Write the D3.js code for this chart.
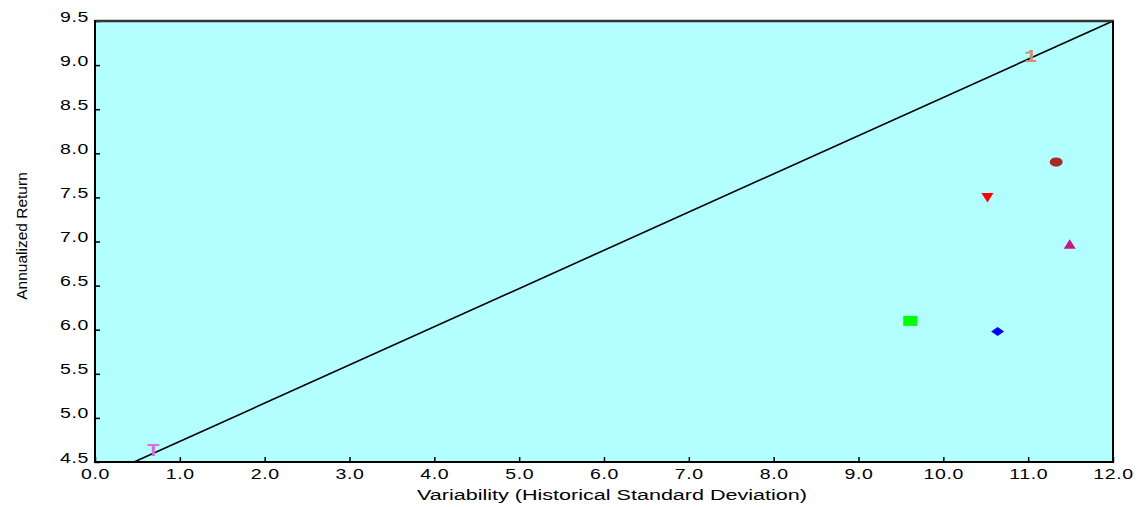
<!DOCTYPE html>
<html><head><meta charset="utf-8">
<script src="https://cdn.jsdelivr.net/npm/d3@7"></script>
<style>
html,body{margin:0;padding:0;background:#fff;}
svg{display:block;}
</style></head>
<body>
<svg id="chart" width="1140" height="507"></svg>
<script>
// Data
const xTicks = [0,1,2,3,4,5,6,7,8,9,10,11,12];
const yTicks = [4.5,5.0,5.5,6.0,6.5,7.0,7.5,8.0,8.5,9.0,9.5];
const pointNames = ["ellipse","downTriangle","upTriangle","square","diamond"];
const pointX = [11.33, 10.52, 11.49, 9.61, 10.64];
const pointY = [7.90, 7.50, 6.97, 6.10, 5.98];
const pointColors = ["#a52a2a","#ff0000","#c71585","#00ff00","#0000ff"];
const labelTexts = ["T","1"];
const labelX = [0.69, 11.03];
const labelY = [4.64, 9.10];
const labelColors = ["#da70d6","#d4906a"];
const lineX = [0.46, 12.0];
const lineY = [4.5, 9.5];

const svg = d3.select("#chart");
const L = 95, R = 1113, T = 21, B = 462;
const x = d3.scaleLinear().domain([0,12]).range([L,R]);
const y = d3.scaleLinear().domain([4.5,9.5]).range([B,T]);
const SX = 1.3;

svg.append("rect").attr("x",L).attr("y",T).attr("width",R-L).attr("height",B-T).attr("fill","#b3ffff");

// line
svg.append("path")
  .datum(lineX.map((d,i)=>[d,lineY[i]]))
  .attr("d", d3.line().x(d=>x(d[0])).y(d=>y(d[1])))
  .attr("stroke","#000").attr("stroke-width",1.6).attr("fill","none");

// points
const shapes = {
  ellipse: (cx,cy)=>`M${cx-6.5},${cy}a6.5,4.6 0 1,0 13,0a6.5,4.6 0 1,0 -13,0Z`,
  downTriangle: (cx,cy)=>`M${cx-6},${cy-4.5}L${cx+6},${cy-4.5}L${cx},${cy+5}Z`,
  upTriangle: (cx,cy)=>`M${cx-6},${cy+4.5}L${cx+6},${cy+4.5}L${cx},${cy-5}Z`,
  square: (cx,cy)=>`M${cx-7},${cy-5}h14v10h-14Z`,
  diamond: (cx,cy)=>`M${cx-6.5},${cy}L${cx},${cy-4.5}L${cx+6.5},${cy}L${cx},${cy+4.5}Z`
};
svg.selectAll("path.pt").data(pointNames).enter().append("path")
  .attr("class","pt")
  .attr("d",(d,i)=>shapes[d](x(pointX[i]),y(pointY[i])))
  .attr("fill",(d,i)=>pointColors[i]);

svg.selectAll("text.lbl").data(labelTexts).enter().append("text")
  .attr("class","lbl")
  .attr("transform",(d,i)=>`translate(${x(labelX[i])},${y(labelY[i])+6}) scale(1.2,1)`)
  .attr("text-anchor","middle")
  .attr("font-family","Liberation Mono, DejaVu Sans Mono, monospace")
  .attr("font-weight","bold").attr("font-size",18)
  .attr("fill",(d,i)=>labelColors[i])
  .text(d=>d);

// axes
const xAxis = d3.axisBottom(x).tickValues(xTicks).tickSizeInner(-5).tickSizeOuter(0)
  .tickPadding(8).tickFormat(d3.format(".1f"));
const gx = svg.append("g").attr("transform",`translate(0,${B})`).call(xAxis);
const yAxis = d3.axisLeft(y).tickValues(yTicks).tickSizeInner(-5).tickSizeOuter(0)
  .tickPadding(8).tickFormat(d3.format(".1f"));
const gy = svg.append("g").attr("transform",`translate(${L},0)`).call(yAxis);
[gx,gy].forEach(g=>{
  g.select(".domain").remove();
  g.selectAll(".tick line").attr("stroke","#000").attr("stroke-width",1.5);
  g.selectAll(".tick text").attr("font-family","Liberation Sans, Arial, sans-serif")
    .attr("font-size",15).attr("fill","#000").attr("letter-spacing","0.5px");
});
gx.selectAll(".tick text").attr("dy","0.72em").attr("y",6).attr("transform",`scale(${SX},1)`);
gy.selectAll(".tick text").attr("x",-6/SX).attr("dy","0em").attr("transform",`scale(${SX},1)`);

// frame
svg.append("line").attr("x1",L).attr("x2",R+1).attr("y1",T).attr("y2",T).attr("stroke","#333").attr("stroke-width",2.5);
svg.append("line").attr("x1",R).attr("x2",R).attr("y1",T).attr("y2",B+1).attr("stroke","#000").attr("stroke-width",2);
svg.append("line").attr("x1",L).attr("x2",L).attr("y1",T-1).attr("y2",B+1).attr("stroke","#000").attr("stroke-width",2);
svg.append("line").attr("x1",L-1).attr("x2",R+1).attr("y1",B).attr("y2",B).attr("stroke","#000").attr("stroke-width",2);

// titles
svg.append("text").attr("x",612).attr("y",500).attr("text-anchor","middle")
  .attr("font-family","Liberation Sans, Arial, sans-serif").attr("font-size",15.5)
  .attr("textLength",390).attr("lengthAdjust","spacingAndGlyphs")
  .text("Variability (Historical Standard Deviation)");
svg.append("text").attr("transform","translate(27,236) rotate(-90)").attr("text-anchor","middle")
  .attr("font-family","Liberation Sans Narrow, Arial Narrow, sans-serif").attr("font-size",15.5)
  .text("Annualized Return");
</script>
</body></html>
